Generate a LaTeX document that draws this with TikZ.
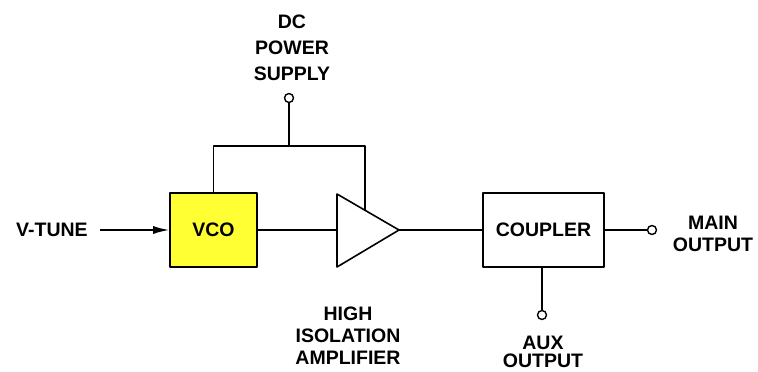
\documentclass[tikz,border=0pt]{standalone}
\usepackage{fontspec}
\setmainfont{Liberation Sans}
\usetikzlibrary{arrows.meta}
\definecolor{vcoyellow}{RGB}{255,255,51}
\begin{document}
\begin{tikzpicture}[x=1pt, y=-1pt, line join=round, line width=1.6pt,
		font=\bfseries\fontsize{19.5}{22}\selectfont]
		\tikzset{blk/.style={draw, minimum height=74pt, inner sep=0pt},
			term/.style={draw, circle, fill=white, minimum size=9pt, inner sep=0pt, line width=1.4pt},
			lbl/.style={align=center, inner sep=0pt}}
		\useasboundingbox (0,0) rectangle (758,372);
		% blocks
		\node[blk, fill=vcoyellow, minimum width=87pt] (vco) at (213.5,230) {VCO};
		\node[blk, minimum width=121pt] (cpl) at (543.5,230) {COUPLER};
		% amplifier triangle
		\coordinate (at) at (337,194);
		\coordinate (ab) at (337,267);
		\coordinate (ao) at (399,230);
		\coordinate (ai) at (337,230);
		\coordinate (ap) at (365,210.5);
		\draw (at)--(ao)--(ab)--cycle;
		% terminals
		\node[term] (dc) at (289,98) {};
		\node[term] (mo) at (652,230) {};
		\node[term] (ax) at (542,315) {};
		\coordinate (vt) at (100,230);
		\coordinate (bus) at (289,146);
		% connections
		\draw[-{Latex[length=16pt,width=8pt]}] (vt)--(vco.west);
		\draw (vco.east)--(ai) (ao)--(cpl.west) (cpl.east)--(mo.west);
		\draw (cpl.south -| ax)--(ax.north) (dc.south)--(bus);
		\draw (vco.north)--(vco.north |- bus)--(ap |- bus)--(ap);
		% labels
		\node[lbl] (vtl) at (52,230) {V-TUNE};
		\node[lbl, font=\bfseries\fontsize{19.5}{26}\selectfont] (dcl) at (292,48) {DC\\POWER\\SUPPLY};
		\node[lbl] (ampl) at (348,336) {HIGH\\ISOLATION\\AMPLIFIER};
		\node[lbl] (mol) at (713,234) {MAIN\\OUTPUT};
		\node[lbl, font=\bfseries\fontsize{19.5}{18.5}\selectfont] (axl) at (543,352) {AUX\\OUTPUT};
	\end{tikzpicture}
\end{document}
